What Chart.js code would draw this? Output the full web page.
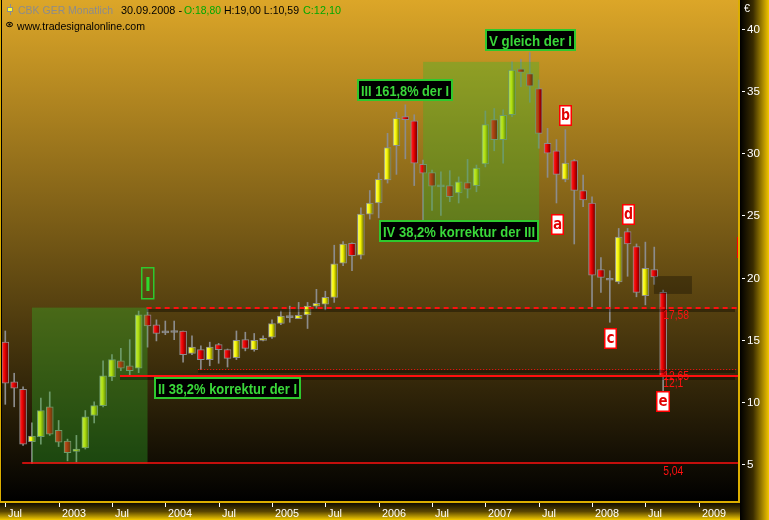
<!DOCTYPE html>
<html>
<head>
<meta charset="utf-8">
<script src="https://cdn.jsdelivr.net/npm/chart.js@4.4.1/dist/chart.umd.min.js"></script>
<style>
html, body { margin: 0; padding: 0; background: #000; }
#wrap { width: 769px; height: 520px; }
</style>
</head>
<body>
<div id="wrap"><canvas id="cbkChart" width="769" height="520"></canvas></div>
<script>
// CBK GER monthly candles, Jul 2002 .. Sep 2008 (index 0 = Jul 2002)
const opens  = [14.8, 11.6, 11.0, 6.8, 7.2, 9.6, 7.7, 6.85, 6.0, 6.3, 8.9, 9.7, 12.0, 13.3, 12.9, 12.7, 17.0, 16.2, 15.55, 15.62,
                15.7, 13.9, 14.2, 13.4, 14.6, 14.2, 13.55, 15.0, 14.2, 14.95, 15.2, 16.3, 16.78, 16.7, 17.0, 17.7, 17.85, 18.4, 21.15, 22.75,
                21.8, 25.1, 26.0, 27.85, 30.6, 32.95, 32.6, 29.1, 28.45, 27.4, 27.4, 26.8, 27.65, 27.4, 29.15, 32.7, 31.1, 33.1, 36.8, 36.4,
                35.2, 30.8, 30.2, 27.9, 29.4, 27.0, 26.0, 20.65, 19.82, 19.65, 23.7, 22.5, 18.55, 20.65, 18.80];
const highs  = [15.7, 12.3, 11.2, 8.3, 10.3, 10.8, 8.5, 7.0, 7.3, 9.3, 10.0, 13.3, 13.8, 14.3, 15.0, 17.3, 17.58, 16.6, 16.5, 16.5,
                15.7, 15.3, 14.5, 14.8, 14.7, 14.25, 15.7, 15.6, 15.5, 15.3, 16.6, 17.3, 17.7, 18.0, 18.0, 19.05, 18.9, 22.6, 22.9, 22.8,
                25.6, 27.0, 28.4, 31.6, 33.3, 33.9, 33.1, 29.46, 28.65, 28.5, 28.6, 28.1, 29.5, 29.05, 33.4, 33.6, 33.5, 37.35, 37.55, 38.1,
                35.9, 32.0, 31.1, 31.9, 29.5, 28.25, 26.5, 21.6, 20.55, 23.95, 23.95, 22.7, 22.85, 22.45, 19.00];
const lows   = [9.8, 9.6, 6.5, 5.04, 6.6, 7.3, 6.4, 5.25, 5.16, 6.2, 8.3, 9.6, 11.7, 12.5, 12.1, 12.35, 14.4, 14.9, 15.4, 15.0,
                13.2, 13.8, 12.6, 12.9, 13.1, 12.8, 13.4, 14.1, 14.07, 14.9, 15.1, 16.2, 16.4, 16.7, 15.9, 17.53, 17.4, 18.0, 20.95, 20.55,
                21.5, 24.7, 24.8, 27.6, 28.3, 29.55, 27.4, 24.63, 25.4, 25.0, 26.1, 26.0, 26.4, 26.9, 28.9, 30.2, 29.2, 32.95, 35.35, 34.1,
                30.4, 28.06, 26.0, 27.7, 22.7, 25.7, 17.65, 18.8, 16.4, 19.5, 20.1, 18.45, 17.8, 19.45, 10.59];
const closes = [11.5, 11.1, 6.6, 7.25, 9.3, 7.4, 6.75, 5.9, 6.2, 8.8, 9.7, 12.1, 13.4, 12.7, 12.5, 17.0, 16.1, 15.5, 15.6, 15.58,
                13.8, 14.4, 13.4, 14.4, 14.2, 13.5, 14.95, 14.3, 14.95, 15.1, 16.3, 16.9, 16.8, 16.96, 17.7, 17.93, 18.4, 21.1, 22.7, 21.75,
                25.1, 26.0, 27.9, 30.45, 32.8, 32.7, 29.2, 28.4, 27.35, 27.3, 26.5, 27.7, 27.1, 28.8, 32.3, 31.1, 33.05, 36.7, 36.5, 35.4,
                31.6, 30.0, 28.3, 29.2, 27.0, 26.25, 20.2, 20.0, 19.78, 23.25, 22.7, 18.8, 20.75, 20.05, 12.10];

const monthTicks  = [0, 6, 12, 18, 24, 30, 36, 42, 48, 54, 60, 66, 72, 78];
const monthLabels = ['Jul', '2003', 'Jul', '2004', 'Jul', '2005', 'Jul', '2006', 'Jul', '2007', 'Jul', '2008', 'Jul', '2009'];
const priceTicks  = [5, 10, 15, 20, 25, 30, 35, 40];

// horizontal levels: value, first month index, line style
const levelValues = [17.58, 12.65, 12.1, 5.04];
const levelStarts = [15.9, 21.7, 12.9, 1.9];
const levelStyles = ['dash', 'dot', 'solid', 'thin'];

// wave boxes (month index range, price range)
const waveBoxes = [
    { x0: 3, x1: 16, lo: 5.04, hi: 17.58 },
    { x0: 47, x1: 60.05, lo: 24.63, hi: 37.35 }
];
const targetZone = { x0: 72.97, x1: 77.24, lo: 18.68, hi: 20.12 };

// text annotations anchored at (month index, price) of their top-left corner
const waveLabels = [
    { text: 'III 161,8% der I', x: 39.56, y: 35.97, w: 96 },
    { text: 'IV 38,2% korrektur der III', x: 42.04, y: 24.63, w: 160 },
    { text: 'V gleich der I', x: 53.96, y: 40.0, w: 91 },
    { text: 'II 38,2% korrektur der I', x: 16.73, y: 12.0, w: 147 }
];
const letterLabels = [
    { text: 'a', x: 61.38, y: 25.11 },
    { text: 'b', x: 62.28, y: 33.88 },
    { text: 'c', x: 67.35, y: 15.94 },
    { text: 'd', x: 69.37, y: 25.88 },
    { text: 'e', x: 73.19, y: 10.87 },
    { text: '', x: 82.36, y: 23.26 }
];

const last = closes.length - 1;
const fmt = v => v.toFixed(2).replace('.', ',');
const fmtLevel = v => String(v).replace('.', ',');

function fitText(ctx, text, x, y, width) {
    const w = ctx.measureText(text).width;
    ctx.save();
    ctx.translate(x, y);
    if (width && w > 0) ctx.scale(width / w, 1);
    ctx.fillText(text, 0, 0);
    ctx.restore();
}

function candleFill(context) {
    const chart = context.chart;
    const i = context.dataIndex;
    if (i === undefined || !chart.scales.x) return '#888';
    const o = opens[i], c = closes[i];
    if (Math.abs(o - c) < 0.1) return '#8c8c8c';
    const x = chart.scales.x.getPixelForValue(i);
    if (!isFinite(x)) return c > o ? '#f4f400' : '#e80000';
    const g = chart.ctx.createLinearGradient(x - 3.5, 0, x + 3.5, 0);
    if (c > o) {
        g.addColorStop(0, '#ffff70');
        g.addColorStop(0.45, '#f4f400');
        g.addColorStop(1, '#5a5a00');
    } else {
        g.addColorStop(0, '#ff3030');
        g.addColorStop(0.45, '#e80000');
        g.addColorStop(1, '#600000');
    }
    return g;
}

const backdrop = {
    id: 'backdrop',
    beforeDraw(chart) {
        const ctx = chart.ctx;
        ctx.save();
        ctx.fillStyle = '#000';
        ctx.fillRect(0, 0, 769, 520);
        // plot background
        let g = ctx.createLinearGradient(0, 0, 0, 502);
        g.addColorStop(0, '#dca628');
        g.addColorStop(1, '#000000');
        ctx.fillStyle = g;
        ctx.fillRect(0, 0, 740, 502);
        // right axis strip
        g = ctx.createLinearGradient(740, 0, 769, 0);
        g.addColorStop(0, '#000000');
        g.addColorStop(0.45, '#3a2c00');
        g.addColorStop(1, '#f2c600');
        ctx.fillStyle = g;
        ctx.fillRect(740, 0, 29, 520);
        // bottom axis strip
        g = ctx.createLinearGradient(0, 503, 0, 520);
        g.addColorStop(0, '#100c00');
        g.addColorStop(0.5, '#5a4600');
        g.addColorStop(1, '#f4cc00');
        ctx.fillStyle = g;
        ctx.fillRect(0, 503, 740, 17);
        // frame
        ctx.fillStyle = '#dcae00';
        ctx.fillRect(738, 0, 2, 503);
        ctx.fillRect(0, 501, 740, 2);
        ctx.fillRect(0, 0, 1, 503);
        ctx.fillStyle = '#000';
        ctx.fillRect(1, 0, 1, 501);
        ctx.restore();
    }
};

const overlays = {
    id: 'overlays',
    afterDatasetsDraw(chart) {
        const ctx = chart.ctx;
        const xs = chart.scales.x, ys = chart.scales.y;
        const area = chart.chartArea;
        const px = v => xs.getPixelForValue(v);
        const py = v => ys.getPixelForValue(v);

        ctx.save();
        ctx.beginPath();
        ctx.rect(area.left, area.top, area.right - area.left, area.bottom - area.top);
        ctx.clip();

        // wave boxes
        ctx.fillStyle = 'rgba(50, 185, 40, 0.34)';
        waveBoxes.forEach(b => {
            ctx.fillRect(px(b.x0), py(b.hi), px(b.x1) - px(b.x0), py(b.lo) - py(b.hi));
        });
        ctx.fillStyle = 'rgba(0, 0, 0, 0.3)';
        ctx.fillRect(px(targetZone.x0), py(targetZone.hi), px(targetZone.x1) - px(targetZone.x0), py(targetZone.lo) - py(targetZone.hi));

        // level lines with shadow
        levelValues.forEach((v, k) => {
            const y = Math.round(py(v));
            const x0 = px(levelStarts[k]);
            const style = levelStyles[k];
            if (style !== 'thin') {
                ctx.fillStyle = 'rgba(0, 0, 0, 0.35)';
                ctx.fillRect(x0, y + 1, area.right - x0 - 3, 3);
            }
            ctx.strokeStyle = '#ff1010';
            ctx.lineWidth = style === 'dot' ? 1 : style === 'thin' ? 1.5 : 2;
            ctx.setLineDash(style === 'dash' ? [5, 4] : style === 'dot' ? [1, 2] : []);
            ctx.beginPath();
            ctx.moveTo(x0, y + (ctx.lineWidth === 1 ? 0.5 : 0));
            ctx.lineTo(area.right, y + (ctx.lineWidth === 1 ? 0.5 : 0));
            ctx.stroke();
        });
        ctx.setLineDash([]);

        // level values next to the last candle
        ctx.fillStyle = '#ff1010';
        ctx.font = '12px "Liberation Sans", Arial, sans-serif';
        ctx.textBaseline = 'alphabetic';
        levelValues.forEach(v => {
            const y = py(v);
            ctx.save();
            ctx.translate(px(last), y + 11.5);
            ctx.scale(0.86, 1);
            ctx.fillText(fmtLevel(v), 0, 0);
            ctx.restore();
        });

        // wave labels
        ctx.font = 'bold 15px "Liberation Sans", Arial, sans-serif';
        waveLabels.forEach(l => {
            const x = Math.round(px(l.x)), y = Math.round(py(l.y));
            ctx.fillStyle = '#000';
            ctx.fillRect(x, y, l.w, 22);
            ctx.strokeStyle = '#2ec82e';
            ctx.lineWidth = 2;
            ctx.strokeRect(x + 1, y + 1, l.w - 2, 20);
            ctx.fillStyle = '#3ad83a';
            fitText(ctx, l.text, x + 4, y + 16.5, l.w - 8);
        });
        // wave I marker
        {
            const x = Math.round(px(15.26)), y = Math.round(py(20.85));
            ctx.strokeStyle = '#2ec82e';
            ctx.lineWidth = 1.5;
            ctx.strokeRect(x + 0.75, y + 0.75, 12, 31);
            ctx.fillStyle = '#2ed82e';
            ctx.font = 'bold 21px "Liberation Sans", Arial, sans-serif';
            ctx.textAlign = 'center';
            ctx.fillText('I', x + 7, y + 23.5);
            ctx.textAlign = 'left';
        }

        // letter labels
        ctx.font = 'bold 15px "DejaVu Sans Mono", monospace';
        letterLabels.forEach(l => {
            const x = Math.round(px(l.x)), y = Math.round(py(l.y));
            const w = l.text === 'e' ? 14 : 13;
            ctx.fillStyle = '#fff';
            ctx.fillRect(x, y, w, 21);
            ctx.strokeStyle = '#ff0000';
            ctx.lineWidth = 1.5;
            ctx.strokeRect(x + 0.75, y + 0.75, w - 1.5, 19.5);
            ctx.fillStyle = '#e00000';
            ctx.textAlign = 'center';
            ctx.fillText(l.text, x + w / 2, y + 15);
            ctx.textAlign = 'left';
        });
        ctx.restore();

        // header
        ctx.save();
        ctx.font = '11px "Liberation Sans", Arial, sans-serif';
        ctx.textBaseline = 'alphabetic';
        ctx.strokeStyle = '#8c8c8c';
        ctx.lineWidth = 1;
        ctx.beginPath(); ctx.moveTo(10.5, 4); ctx.lineTo(10.5, 15); ctx.stroke();
        ctx.fillStyle = '#ffff30';
        ctx.fillRect(7, 7, 6, 5);
        ctx.strokeRect(7.5, 7.5, 5, 4);
        const header = [
            ['CBK GER Monatlich', '#8c8c8c', 18, 95],
            ['30.09.2008 -', '#000', 121, 61],
            ['O:' + fmt(opens[last]), '#00a800', 184, 37],
            ['H:' + fmt(highs[last]) + ' L:' + fmt(lows[last]), '#000', 224, 75],
            ['C:' + fmt(closes[last]), '#00a800', 303, 38]
        ];
        header.forEach(h => {
            ctx.fillStyle = h[1];
            fitText(ctx, h[0], h[2], 13.5, h[3]);
        });
        ctx.fillStyle = '#000';
        fitText(ctx, 'www.tradesignalonline.com', 17, 29.5, 128);
        ctx.strokeStyle = '#000';
        ctx.beginPath();
        ctx.ellipse(9.5, 24.5, 3, 2.2, 0, 0, Math.PI * 2);
        ctx.stroke();
        ctx.fillRect(8.5, 23.5, 2, 2);

        // price axis
        ctx.fillStyle = '#ffffff';
        ctx.font = '11px "Liberation Sans", Arial, sans-serif';
        ctx.textBaseline = 'middle';
        fitText(ctx, '€', 744, 8.5, 6);
        priceTicks.forEach(t => {
            const y = Math.round(ys.getPixelForValue(t));
            ctx.fillRect(742, y, 3, 1);
            fitText(ctx, String(t), 747, y + 0.5, t < 10 ? 6.5 : 13);
        });

        // time axis
        ctx.textBaseline = 'alphabetic';
        monthTicks.forEach((m, k) => {
            const x = Math.round(xs.getPixelForValue(m));
            ctx.fillRect(x, 503, 1, 4);
            const lbl = monthLabels[k];
            fitText(ctx, lbl, x + 3, 516.5, lbl.length === 3 ? 14 : 24);
        });
        ctx.restore();
    }
};

const bodyData = opens.map((o, i) => ({ x: i, y: [Math.min(o, closes[i]), Math.max(o, closes[i])] }));
const wickData = lows.map((l, i) => ({ x: i, y: [l, highs[i]] }));

new Chart(document.getElementById('cbkChart'), {
    type: 'bar',
    data: {
        datasets: [
            {
                label: 'body',
                data: bodyData,
                barThickness: 7,
                minBarLength: 2,
                grouped: false,
                order: 0,
                borderWidth: 1,
                borderColor: '#8c8c8c',
                borderSkipped: false,
                backgroundColor: candleFill
            },
            {
                label: 'wick',
                data: wickData,
                barThickness: 1,
                grouped: false,
                order: 1,
                borderWidth: 0,
                backgroundColor: '#8c8c8c'
            }
        ]
    },
    options: {
        responsive: false,
        animation: false,
        events: [],
        layout: { padding: { left: 2, right: 31, top: 0, bottom: 18 } },
        plugins: {
            legend: { display: false },
            tooltip: { enabled: false }
        },
        scales: {
            x: { type: 'linear', min: -0.37, max: 82.42, offset: false, display: false },
            y: { type: 'linear', min: 1.94, max: 42.33, display: false }
        }
    },
    plugins: [backdrop, overlays]
});
</script>
</body>
</html>
